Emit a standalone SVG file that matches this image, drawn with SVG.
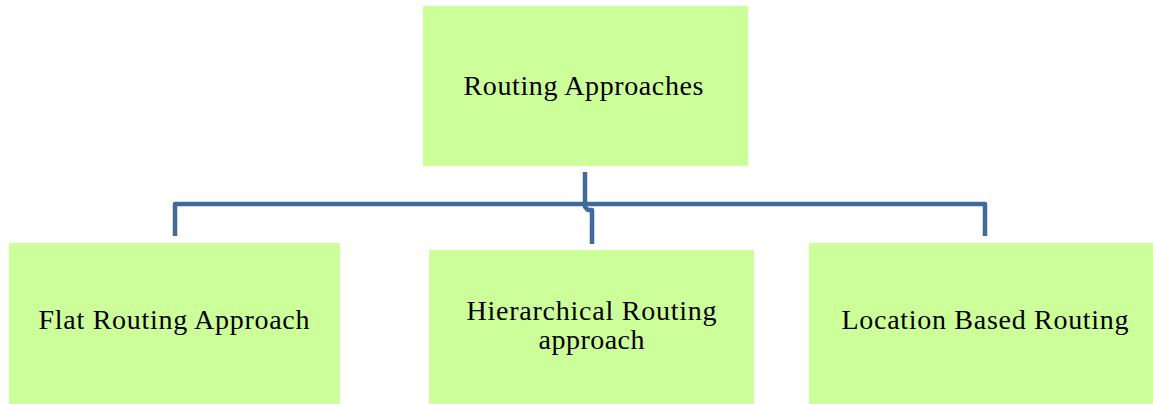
<svg xmlns="http://www.w3.org/2000/svg" width="1153" height="404" viewBox="0 0 1153 404">
<style>
.box{fill:#CCFF99;stroke:none}
.lbl{font-family:"Liberation Serif","Times New Roman",serif;font-size:28px;fill:#000;text-anchor:middle}
.con{fill:none;stroke:#416A99;stroke-width:4.5;stroke-linejoin:round}
</style>
<rect width="1153" height="404" fill="#fff"/>
<g id="connectors">
<path class="con" d="M175,236 V204 H985 V236"/>
<path class="con" d="M585,172 V207 L588,210 H592 V244"/>
</g>
<g id="root">
<rect class="box" x="423" y="6" width="325" height="160"/>
<text class="lbl" x="583.5" y="95" textLength="240" lengthAdjust="spacing">Routing Approaches</text>
</g>
<g id="flat">
<rect class="box" x="9" y="243" width="331" height="161"/>
<text class="lbl" x="174" y="329" textLength="271" lengthAdjust="spacing">Flat Routing Approach</text>
</g>
<g id="hierarchical">
<rect class="box" x="429" y="250" width="325" height="154"/>
<text class="lbl" x="591.5" y="320" textLength="250" lengthAdjust="spacing">Hierarchical Routing</text>
<text class="lbl" x="591.5" y="349" textLength="106" lengthAdjust="spacing">approach</text>
</g>
<g id="location">
<rect class="box" x="809" y="243" width="344" height="161"/>
<text class="lbl" x="985" y="329" textLength="287" lengthAdjust="spacing">Location Based Routing</text>
</g>
</svg>
